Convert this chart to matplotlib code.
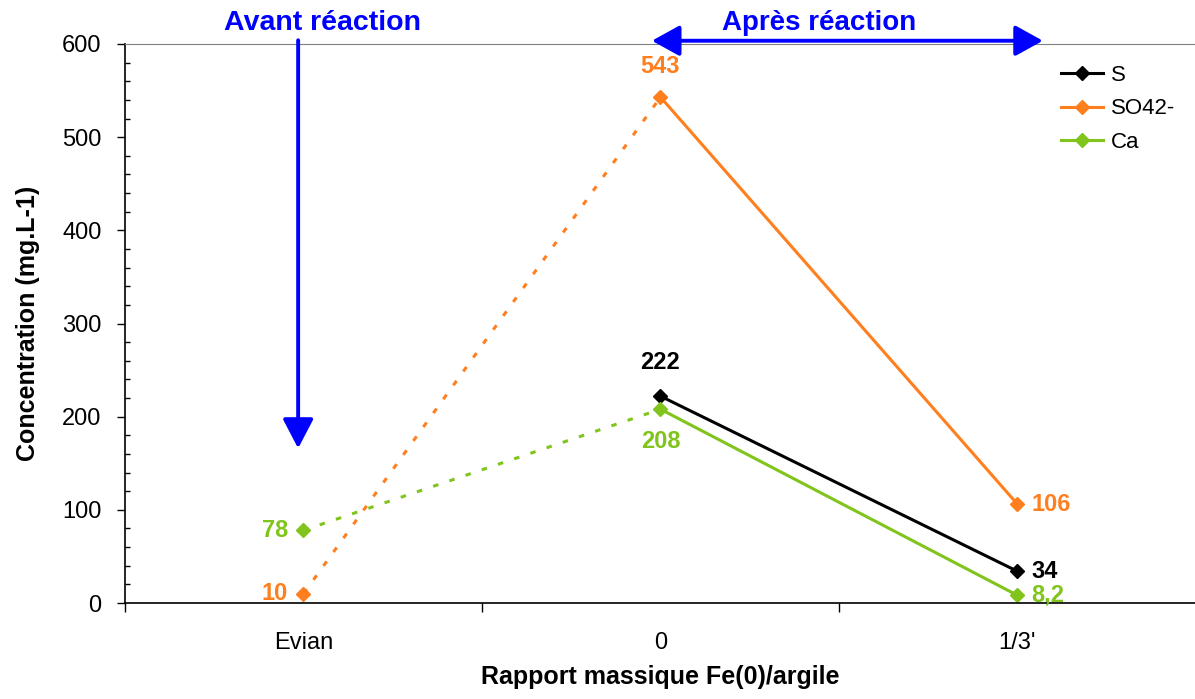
import numpy as np
import matplotlib
matplotlib.use("Agg")
from matplotlib import pyplot as plt
from matplotlib.ticker import MultipleLocator, FixedLocator, NullFormatter

plt.rcParams['font.family'] = ['Liberation Sans', 'DejaVu Sans']

categories = ["Evian", "0", "1/3'"]
s_vals = [np.nan, 222, 34]
so4_vals = [10, 543, 106]
ca_vals = [78, 208, 8.2]

s_labels = ["", "222", "34"]
so4_labels = ["10", "543", "106"]
ca_labels = ["78", "208", "8,2"]

black = "#000000"
orange = "#FF7F1E"
green = "#80C41C"
blue = "#0000FF"

fig = plt.figure(figsize=(11.95, 6.99), dpi=100)
ax = fig.add_axes([125 / 1195, 1 - 603 / 699, 1071 / 1195, 559 / 699])

x = np.arange(len(categories)) + 0.5

def draw_series(vals, color, name):
    vals = np.array(vals, dtype=float)
    # Evian -> 0 dotted, after reaction solid
    if not np.isnan(vals[0]):
        ax.plot(x[:2], vals[:2], color=color, lw=2.2, ls=(0, (1.8, 3.8)))
    ax.plot(x[1:], vals[1:], color=color, lw=2.2, marker="D", ms=7.5, label=name)
    ax.plot(x[:1], vals[:1], color=color, lw=0, marker="D", ms=7.5)

draw_series(s_vals, black, "S")
draw_series(so4_vals, orange, "SO42-")
draw_series(ca_vals, green, "Ca")

lab = dict(fontsize=17, fontweight="bold", textcoords="offset points")
# Evian labels on the left
ax.annotate(so4_labels[0], (x[0], so4_vals[0]), xytext=(-11, 0), ha="right", va="center", color=orange, **lab)
ax.annotate(ca_labels[0], (x[0], ca_vals[0]), xytext=(-11, 0), ha="right", va="center", color=green, **lab)
# labels at 0
ax.annotate(so4_labels[1], (x[1], so4_vals[1]), xytext=(0, 22), ha="center", va="center", color=orange, **lab)
ax.annotate(s_labels[1], (x[1], s_vals[1]), xytext=(0, 24), ha="center", va="center", color=black, **lab)
ax.annotate(ca_labels[1], (x[1], ca_vals[1]), xytext=(0, -23), ha="center", va="center", color=green, **lab)
# labels at 1/3'
ax.annotate(so4_labels[2], (x[2], so4_vals[2]), xytext=(10, 0), ha="left", va="center", color=orange, **lab)
ax.annotate(s_labels[2], (x[2], s_vals[2]), xytext=(10, 0), ha="left", va="center", color=black, **lab)
ax.annotate(ca_labels[2], (x[2], ca_vals[2]), xytext=(10, 0), ha="left", va="center", color=green, **lab)

ax.set_xlim(0, 3)
ax.set_ylim(0, 600)

ax.xaxis.set_major_locator(FixedLocator([0, 1, 2, 3]))
ax.xaxis.set_major_formatter(NullFormatter())
ax.xaxis.set_minor_locator(FixedLocator(x))
ax.set_xticklabels(categories, minor=True)
ax.tick_params(axis="x", which="major", direction="out", length=6.5, width=1)
ax.tick_params(axis="x", which="minor", length=0, pad=21, labelsize=17)

ax.yaxis.set_major_locator(MultipleLocator(100))
ax.yaxis.set_minor_locator(MultipleLocator(20))
ax.tick_params(axis="y", which="major", direction="out", length=6, width=1, pad=11, labelsize=17)
ax.tick_params(axis="y", which="minor", direction="in", length=3.5, width=1)

ax.spines["right"].set_visible(False)
ax.spines["top"].set_color("#808080")
ax.spines["left"].set_linewidth(1.2)
ax.spines["bottom"].set_linewidth(1.2)

ax.set_ylabel("Concentration (mg.L-1)", fontsize=18, fontweight="bold", labelpad=16)
ax.set_xlabel("Rapport massique Fe(0)/argile", fontsize=18, fontweight="bold", labelpad=8)

# before / after reaction arrows
ax.annotate("", xy=(0.485, 166), xytext=(0.485, 604), xycoords="data",
            annotation_clip=False,
            arrowprops=dict(arrowstyle="-|>,head_length=0.9,head_width=0.47",
                            mutation_scale=20, lw=2.8, color=blue,
                            shrinkA=0, shrinkB=0))
ax.annotate("", xy=(1.476, 603.5), xytext=(2.571, 603.5), xycoords="data",
            annotation_clip=False,
            arrowprops=dict(arrowstyle="<|-|>,head_length=0.85,head_width=0.47",
                            mutation_scale=20, lw=2.8, color=blue,
                            shrinkA=0, shrinkB=0))
fig.text(322 / 1195, 1 - 30 / 699, "Avant réaction", ha="center", va="baseline",
         fontsize=20.5, fontweight="bold", color=blue)
fig.text(819 / 1195, 1 - 30 / 699, "Après réaction", ha="center", va="baseline",
         fontsize=20, fontweight="bold", color=blue)

leg = ax.legend(loc="upper left", bbox_to_anchor=(1050 / 1195, 1 - 54 / 699),
                bbox_transform=fig.transFigure, frameon=False, fontsize=16,
                handlelength=1.9, handletextpad=0.35, labelspacing=0.55, borderpad=0)

fig.savefig("out.png", dpi=100)
